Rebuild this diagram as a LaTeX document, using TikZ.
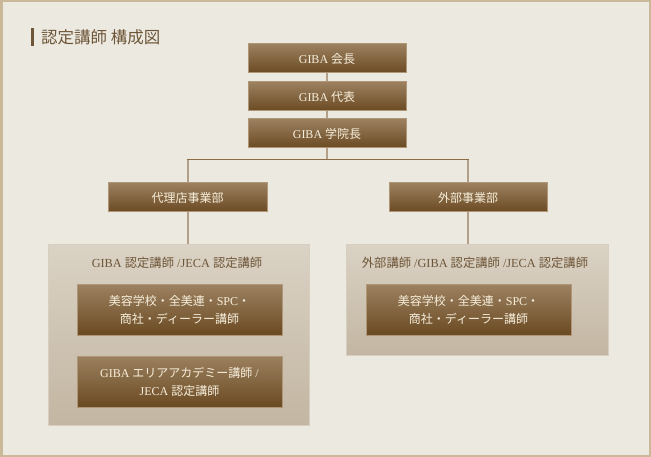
\documentclass[tikz,border=0pt]{standalone}
\usepackage{fontspec}
\setmainfont{Liberation Serif}
\newfontfamily\jp{Noto Sans CJK JP}
\usepackage{tikz}
\usetikzlibrary{positioning,calc}
\definecolor{pagebg}{HTML}{ECE9E1}
\definecolor{pageframe}{HTML}{C9B999}
\definecolor{boxtop}{HTML}{9C8160}
\definecolor{boxbot}{HTML}{6A4A22}
\definecolor{boxedge}{HTML}{AE9676}
\definecolor{boxtxt}{HTML}{F6EEDC}
\definecolor{grptop}{HTML}{DAD2C4}
\definecolor{grpbot}{HTML}{C3B6A2}
\definecolor{grpedge}{HTML}{D7CEBF}
\definecolor{titlecol}{HTML}{6E5638}
\definecolor{vlinecol}{HTML}{B4A088}
\definecolor{hlinecol}{HTML}{8E6D44}
\tikzset{
  brownblk/.style = {draw=boxedge, line width=1pt, top color=boxtop, bottom color=boxbot,
                     text=boxtxt, align=center, inner sep=0pt,
                     font=\fontsize{12}{18}\selectfont},
  topblk/.style   = {brownblk, minimum width=158, minimum height=29},
  innerblk/.style = {brownblk, minimum width=205, minimum height=50},
  grpblk/.style   = {draw=grpedge, line width=1pt, top color=grptop, bottom color=grpbot,
                     inner sep=0pt},
  grplbl/.style   = {text=titlecol, inner sep=1pt, font=\fontsize{12.3}{14}\selectfont},
  vline/.style    = {draw=vlinecol, line width=2pt},
  hline/.style    = {draw=hlinecol, line width=1pt}
}

\begin{document}
\begin{tikzpicture}[x=1pt, y=-1pt]
% ---- page ----
\fill[pagebg] (0,0) rectangle (651,457);
\draw[pageframe, line width=2.5pt] (1.25,1.25) rectangle (649.75,455.75);
\useasboundingbox (0,0) rectangle (651,457);

% ---- title ----
\fill[titlecol] (31,28) rectangle (34,46);
\node[anchor=west, text=titlecol, inner sep=0pt, font=\jp\fontsize{16.5}{18}\selectfont] (title) at (41,37) {認定講師 構成図};

% ---- top chain ----
\node[topblk] (kaicho)  at (327,58.5)  {GIBA {\jp 会長}};
\node[topblk] (daihyo)  at (327,96.5)  {GIBA {\jp 代表}};
\node[topblk] (gakuin)  at (327,133.5) {GIBA {\jp 学院長}};
\coordinate (split) at (327,160);

% ---- departments ----
\node[topblk, minimum width=159] (dairi) at (187.5,197.5) {\jp 代理店事業部};
\node[topblk] (gaibu) at (468,197.5) {\jp 外部事業部};

% ---- groups ----
\node[grpblk, minimum width=261, minimum height=180] (grpL) at (178.5,335) {};
\node[grpblk, minimum width=262, minimum height=110] (grpR) at (477,300) {};
\node[grplbl] (lblL) at (177,263) {GIBA {\jp 認定講師} /JECA {\jp 認定講師}};
\node[grplbl] (lblR) at (475,263) {{\jp 外部講師} /GIBA {\jp 認定講師} /JECA {\jp 認定講師}};

\node[innerblk] (schoolL) at (179.5,310) {{\jp 美容学校・全美連・}SPC{\jp ・}\\{\jp 商社・ディーラー講師}};
\node[innerblk, minimum height=51] (area) at (179.5,381.5) {GIBA {\jp エリアアカデミー講師} /\\JECA {\jp 認定講師}};
\node[innerblk] (schoolR) at (468.5,310) {{\jp 美容学校・全美連・}SPC{\jp ・}\\{\jp 商社・ディーラー講師}};

% ---- connectors ----
\draw[vline] (kaicho.south) -- (daihyo.north);
\draw[vline] (daihyo.south) -- (gakuin.north);
\draw[vline] (gakuin.south) -- (split);
\draw[vline] (dairi.north |- split) -- (dairi.north);
\draw[vline] (gaibu.north |- split) -- (gaibu.north);
\draw[hline] ($(dairi.north |- split)+(-1,0)$) -- ($(gaibu.north |- split)+(1,0)$);
\draw[vline] (dairi.south) -- (dairi.south |- grpL.north);
\draw[vline] (gaibu.south) -- (gaibu.south |- grpR.north);
\end{tikzpicture}
\end{document}
